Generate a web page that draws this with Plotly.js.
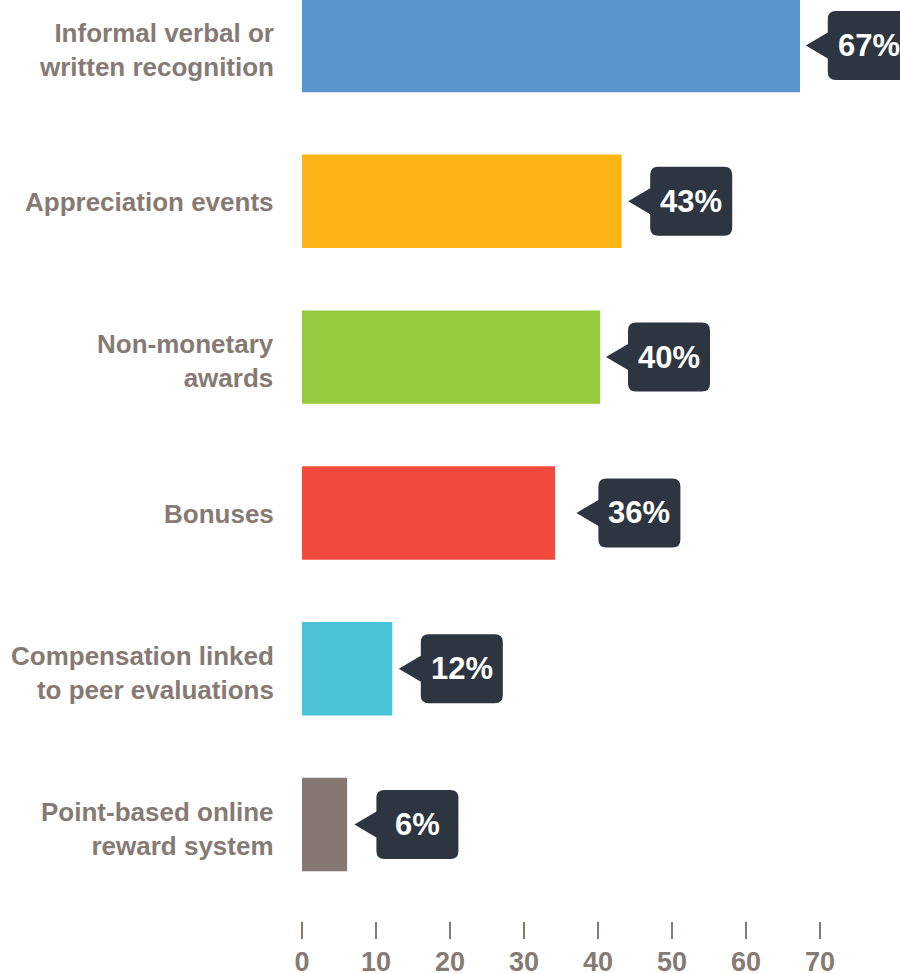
<!DOCTYPE html>
<html>
<head>
<meta charset="utf-8">
<script src="https://cdn.plot.ly/plotly-3.0.1.min.js"></script>
<style>html,body{margin:0;padding:0;background:#fff;overflow:hidden}#chart{width:900px;height:974px}</style>
</head>
<body>
<div id="chart"></div>
<script>
var categories = [
  "Informal verbal or<br>written recognition",
  "Appreciation events",
  "Non-monetary<br>awards",
  "Bonuses",
  "Compensation linked<br>to peer evaluations",
  "Point-based online<br>reward system"
];
var barValues = [67.3, 43.2, 40.3, 34.2, 12.2, 6.1];
var labelValues = [67, 43, 40, 36, 12, 6];
var labelTexts = ["67%", "43%", "40%", "36%", "12%", "6%"];
var barColors = ["#5b95cd", "#fdb516", "#95c93e", "#f24a3d", "#4ac3d6", "#857872"];
var tickValues = [0, 10, 20, 30, 40, 50, 60, 70];

var labelColor = "#857a74";
var calloutColor = "#2d3540";
var font = "Liberation Sans, Arial, Helvetica, sans-serif";

var tip = 8, base = 30, boxR = 112, halfH = 34.5, triH = 13, rad = 8;
var calloutPath = "M " + tip + ",0 L " + base + "," + triH +
  " L " + base + "," + (halfH - rad) +
  " Q " + base + "," + halfH + " " + (base + rad) + "," + halfH +
  " L " + (boxR - rad) + "," + halfH +
  " Q " + boxR + "," + halfH + " " + boxR + "," + (halfH - rad) +
  " L " + boxR + "," + (-halfH + rad) +
  " Q " + boxR + "," + (-halfH) + " " + (boxR - rad) + "," + (-halfH) +
  " L " + (base + rad) + "," + (-halfH) +
  " Q " + base + "," + (-halfH) + " " + base + "," + (-halfH + rad) +
  " L " + base + "," + (-triH) + " Z";

var shapes = [], annotations = [];
categories.forEach(function (c, i) {
  shapes.push({
    type: "path", xref: "x", yref: "y",
    xsizemode: "pixel", ysizemode: "pixel",
    xanchor: labelValues[i], yanchor: c,
    path: calloutPath,
    fillcolor: calloutColor, line: {width: 0}, layer: "above"
  });
  annotations.push({
    x: labelValues[i], y: c, xref: "x", yref: "y",
    xanchor: "center", yanchor: "middle",
    xshift: base + (boxR - base) / 2, yshift: 0,
    text: labelTexts[i], showarrow: false,
    font: {family: font, size: 31, color: "#ffffff", weight: "bold"}
  });
  var multi = c.indexOf("<br>") >= 0;
  annotations.push({
    x: 0, y: c, xref: "paper", yref: "y",
    xanchor: "right", yanchor: "middle", align: "right",
    xshift: -26, yshift: multi ? -4 : -1,
    text: c, showarrow: false,
    font: {family: font, size: 26, color: labelColor, weight: "bold"}
  });
});

var trace = {
  type: "bar", orientation: "h",
  x: barValues, y: categories,
  marker: {color: barColors, line: {width: 0}},
  width: 0.6, hoverinfo: "none"
};

var layout = {
  width: 900, height: 974,
  margin: {l: 302, r: 0, t: 0, b: 53, pad: 0},
  paper_bgcolor: "#ffffff", plot_bgcolor: "#ffffff",
  showlegend: false,
  xaxis: {
    range: [0, 80.81], tickvals: tickValues, ticktext: tickValues.map(String),
    ticks: "outside", ticklen: 17, tickwidth: 1.5, tickcolor: labelColor,
    showline: false, showgrid: false, zeroline: false,
    tickfont: {family: font, size: 27, color: labelColor, weight: "bold"},
    fixedrange: true
  },
  yaxis: {
    type: "category", range: [5.619, -0.292],
    ticks: "", showline: false, showgrid: false, zeroline: false,
    showticklabels: false,
    fixedrange: true
  },
  shapes: shapes,
  annotations: annotations
};

Plotly.newPlot("chart", [trace], layout, {displayModeBar: false, staticPlot: true});
</script>
</body>
</html>
